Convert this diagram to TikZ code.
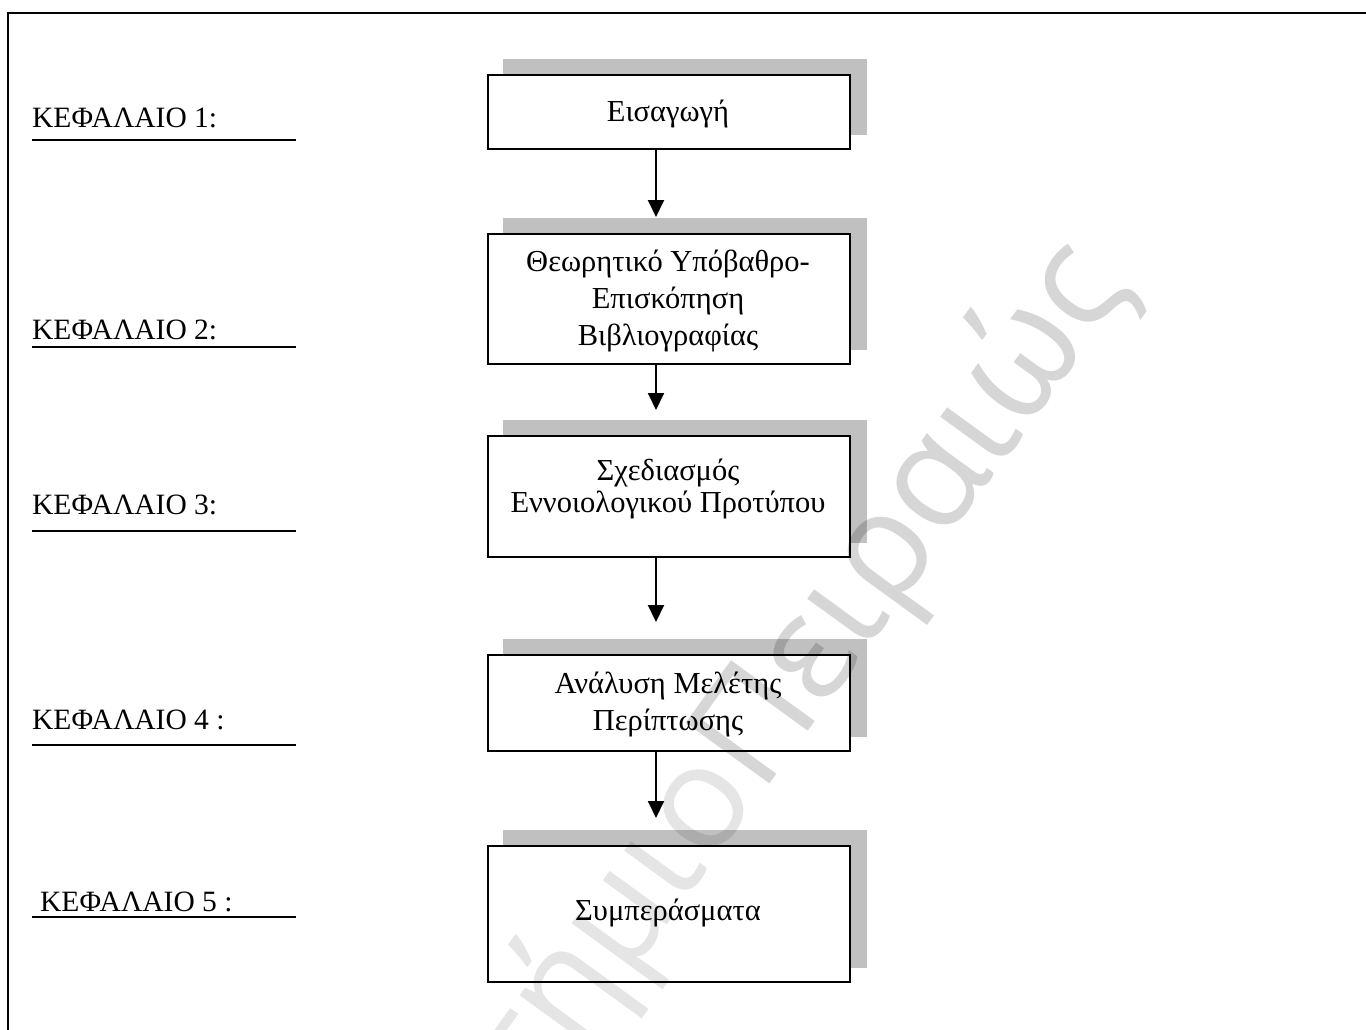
\documentclass[tikz,border=0pt]{standalone}
\usepackage{fontspec}
\setmainfont{Liberation Serif}
\newfontfamily\wmfont{Open Sans}
\usetikzlibrary{arrows.meta,backgrounds}
\definecolor{shade}{RGB}{192,192,192}
\tikzset{
  stepbox/.style={draw=black, line width=2pt, fill=white, minimum width=362pt,
                  inner sep=0pt, anchor=north west},
  boxshadow/.style={fill=shade},
  txt/.style={inner sep=0pt, anchor=base, font=\fontsize{30.5}{35}\selectfont},
  chap/.style={inner sep=0pt, anchor=base west, font=\fontsize{29.5}{34}\selectfont},
  uline/.style={line width=2pt},
  flow/.style={line width=2pt, -{Triangle[length=17pt,width=16pt]}},
  frame/.style={line width=2.5pt},
  wmark/.style={inner sep=0pt, anchor=base east, rotate=54, text=black,
                font=\wmfont\fontsize{145}{145}\selectfont},
}
\begin{document}
\begin{tikzpicture}[x=1pt,y=-1pt]
\useasboundingbox (0,0) rectangle (1366,1030);
\clip (0,0) rectangle (1366,1030);

% outer frame (top and left edges)
\draw[frame] (8,1040) -- (8,13) -- (1375,13);

% chapter labels with their rules
\node[chap] (k1) at (32,128) {ΚΕΦΑΛΑΙΟ 1:};
\node[chap] (k2) at (32,339) {ΚΕΦΑΛΑΙΟ 2:};
\node[chap] (k3) at (32,514) {ΚΕΦΑΛΑΙΟ 3:};
\node[chap] (k4) at (32,729) {ΚΕΦΑΛΑΙΟ 4 :};
\node[chap] (k5) at (40,911) {ΚΕΦΑΛΑΙΟ 5 :};
\draw[uline] (32,140) -- (296,140);
\draw[uline] (32,347) -- (296,347);
\draw[uline] (32,531) -- (296,531);
\draw[uline] (32,745) -- (296,745);
\draw[uline] (32,917) -- (296,917);

% chapter boxes
\node[stepbox, minimum height=74pt]  (b1) at (487,74)  {};
\node[stepbox, minimum height=130pt] (b2) at (487,233) {};
\node[stepbox, minimum height=121pt] (b3) at (487,435) {};
\node[stepbox, minimum height=96pt]  (b4) at (487,654) {};
\node[stepbox, minimum height=136pt] (b5) at (487,845) {};

% page ground and drop shadows behind the boxes
\begin{scope}[on background layer]
  \fill[white] (0,0) rectangle (1366,1030);
  \foreach \b in {b1,b2,b3,b4,b5}{
    \fill[boxshadow] ([xshift=16pt,yshift=15pt]\b.south west)
      rectangle ([xshift=16pt,yshift=15pt]\b.north east);
  }
\end{scope}

% box texts
\node[txt] (t1)  at (668,122) {Εισαγωγή};
\node[txt] (t2a) at (668,271) {Θεωρητικό Υπόβαθρο-};
\node[txt] (t2b) at (668,308) {Επισκόπηση};
\node[txt] (t2c) at (668,345) {Βιβλιογραφίας};
\node[txt] (t3a) at (668,480) {Σχεδιασμός};
\node[txt] (t3b) at (668,512) {Εννοιολογικού Προτύπου};
\node[txt] (t4a) at (668,693) {Ανάλυση Μελέτης};
\node[txt] (t4b) at (668,730) {Περίπτωσης};
\node[txt] (t5)  at (668,920) {Συμπεράσματα};

% connectors
\coordinate (ax) at (656,0);
\draw[flow, shorten >=16pt] (b1.south -| ax) -- (b2.north -| ax);
\draw[flow, shorten >=25pt] (b2.south -| ax) -- (b3.north -| ax);
\draw[flow, shorten >=32pt] (b3.south -| ax) -- (b4.north -| ax);
\draw[flow, shorten >=27pt] (b4.south -| ax) -- (b5.north -| ax);

% watermark, lighter towards its start
\node[wmark, text opacity=0.16] (wm2) at (1132,285) {Πειραιώς};
\node[wmark, text opacity=0.10] (wm1) at (wm2.base west) {Πανεπιστήμιο\ };
\end{tikzpicture}
\end{document}
